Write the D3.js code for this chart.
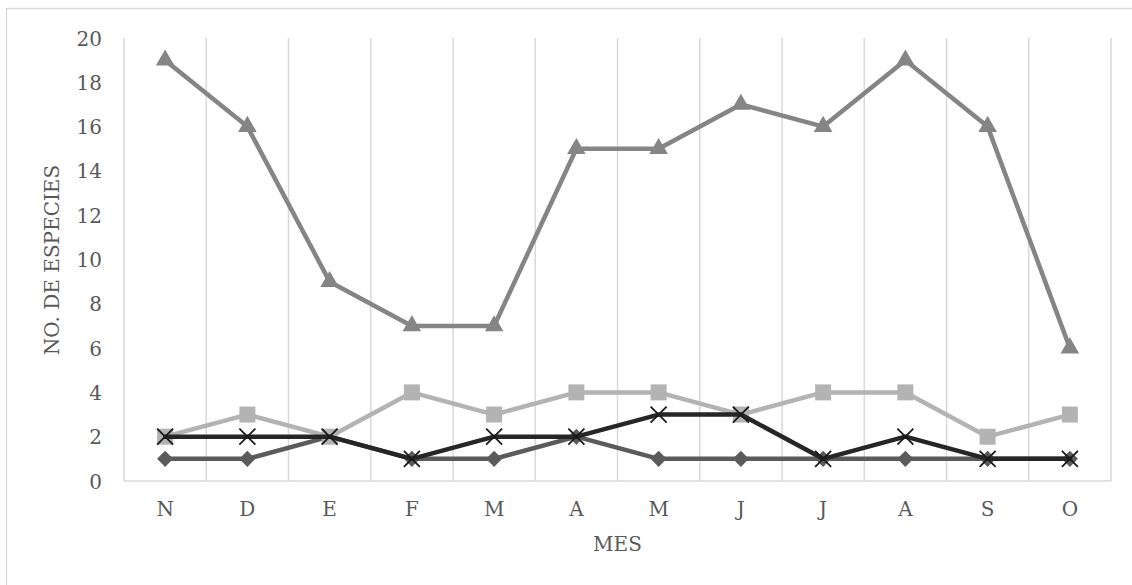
<!DOCTYPE html>
<html>
<head>
<meta charset="utf-8">
<script src="https://cdn.jsdelivr.net/npm/d3@7"></script>
<style>
  html, body { margin: 0; padding: 0; background: #fff; }
  svg { display: block; }
  text { font-family: "DejaVu Serif", "Liberation Serif", serif; fill: #595959; }
</style>
</head>
<body>
<svg id="chart" width="1132" height="585"></svg>
<script>
// Monthly species counts, November to October
const months = ["N", "D", "E", "F", "M", "A", "M", "J", "J", "A", "S", "O"];
const diamondSeries  = [1, 1, 2, 1, 1, 2, 1, 1, 1, 1, 1, 1];
const squareSeries   = [2, 3, 2, 4, 3, 4, 4, 3, 4, 4, 2, 3];
const triangleSeries = [19, 16, 9, 7, 7, 15, 15, 17, 16, 19, 16, 6];
const crossSeries    = [2, 2, 2, 1, 2, 2, 3, 3, 1, 2, 1, 1];
const yTicks = [0, 2, 4, 6, 8, 10, 12, 14, 16, 18, 20];

const svg = d3.select("#chart");
const W = 1132, H = 585;
const plot = { left: 124, right: 1111, top: 38, bottom: 481 };

// outer chart frame
svg.append("rect")
  .attr("x", 6.5).attr("y", 8.5)
  .attr("width", W + 10).attr("height", H + 10)
  .attr("fill", "none").attr("stroke", "#d9d9d9").attr("stroke-width", 1.3);

const idx = d3.range(months.length);
const x = d3.scaleBand().domain(idx).range([plot.left, plot.right]).padding(0);
const cx = i => x(i) + x.bandwidth() / 2;
const y = d3.scaleLinear().domain([0, 20]).range([plot.bottom, plot.top]);

// vertical gridlines at category boundaries
const bounds = idx.map(i => x(i)).concat([x(idx[idx.length - 1]) + x.bandwidth()]);
svg.append("g").selectAll("line").data(bounds).join("line")
  .attr("x1", d => d).attr("x2", d => d)
  .attr("y1", plot.top).attr("y2", plot.bottom)
  .attr("stroke", "#d9d9d9").attr("stroke-width", 1.5);

// horizontal axis line
svg.append("line")
  .attr("x1", plot.left).attr("x2", plot.right)
  .attr("y1", plot.bottom).attr("y2", plot.bottom)
  .attr("stroke", "#d9d9d9").attr("stroke-width", 1.5);

// y axis labels
const yAxis = d3.axisLeft(y).tickValues(yTicks).tickSize(0).tickPadding(0);
const gy = svg.append("g").attr("transform", "translate(102,0)").call(yAxis);
gy.select(".domain").remove();
gy.selectAll("text").style("font-size", "20px").attr("fill", "#595959")
  .attr("dy", "0.35em");

// x axis labels
const xAxis = d3.axisBottom(x).tickFormat(i => months[i]).tickSize(0).tickPadding(0);
const gx = svg.append("g").attr("transform", "translate(0,502)").call(xAxis);
gx.select(".domain").remove();
gx.selectAll("text").style("font-size", "20px").attr("fill", "#595959").attr("dy", "0.72em");

// axis titles
svg.append("text")
  .attr("x", (plot.left + plot.right) / 2).attr("y", 551)
  .attr("text-anchor", "middle").style("font-size", "20px")
  .text("MES");
svg.append("text")
  .attr("transform", "translate(59,260) rotate(-90)")
  .attr("text-anchor", "middle").style("font-size", "20px")
  .text("NO. DE ESPECIES");

const line = d3.line().x((d, i) => cx(i)).y(d => y(d));

const series = [
  { values: diamondSeries,  color: "#5b5b5b", marker: "diamond" },
  { values: squareSeries,   color: "#b3b3b3", marker: "square" },
  { values: triangleSeries, color: "#858585", marker: "triangle" },
  { values: crossSeries,    color: "#262626", marker: "cross" }
];

const symbolPath = {
  diamond: d3.symbol(d3.symbolSquare, 130)(),
  square: d3.symbol(d3.symbolSquare, 256)(),
  triangle: d3.symbol(d3.symbolTriangle, 150)()
};

series.forEach(s => {
  const g = svg.append("g");
  g.append("path").datum(s.values)
    .attr("d", line)
    .attr("fill", "none").attr("stroke", s.color)
    .attr("stroke-width", 4.5).attr("stroke-linejoin", "round").attr("stroke-linecap", "round");

  const m = g.selectAll(".mk").data(s.values).join("path").attr("class", "mk");
  if (s.marker === "cross") {
    m.attr("d", "M-8,-8L8,8M8,-8L-8,8")
      .attr("transform", (d, i) => `translate(${cx(i)},${y(d)})`)
      .attr("fill", "none").attr("stroke", "#1a1a1a").attr("stroke-width", 1.8);
  } else {
    m.attr("d", symbolPath[s.marker])
      .attr("transform", (d, i) => `translate(${cx(i)},${y(d)})` + (s.marker === "diamond" ? " rotate(45)" : ""))
      .attr("fill", s.color);
  }
});
</script>
</body>
</html>
